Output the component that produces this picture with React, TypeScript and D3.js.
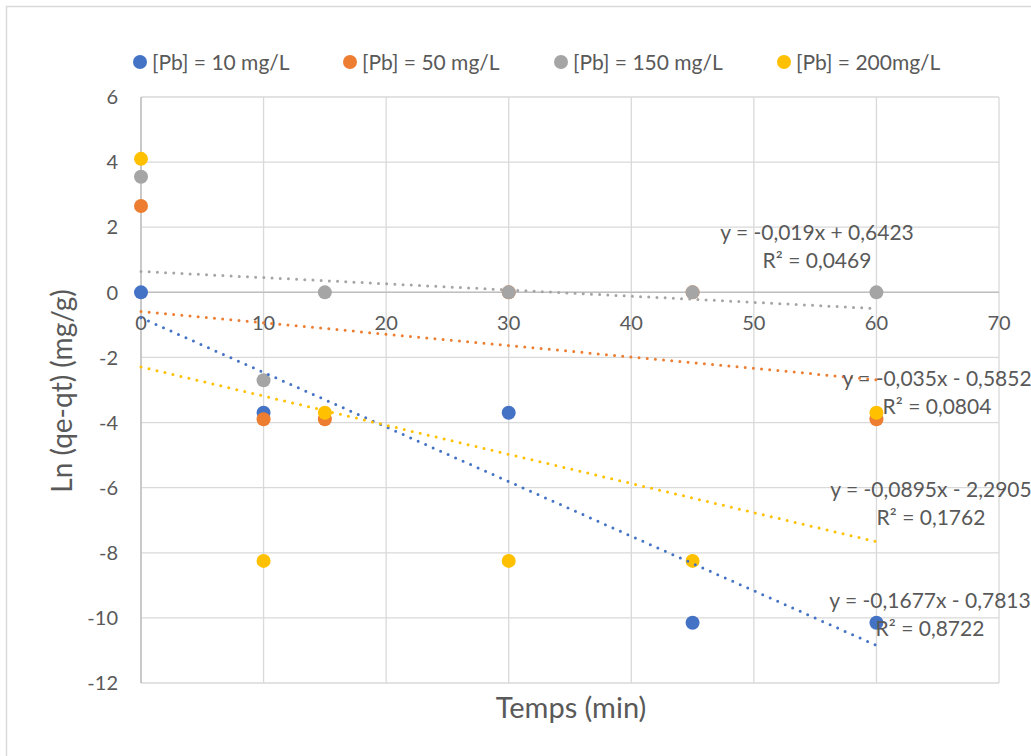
import React from "react";
import * as d3 from "d3";

// Time (min) and Ln(qe-qt) values per lead concentration
const seriesNames = ["[Pb] = 10 mg/L", "[Pb] = 50 mg/L", "[Pb] = 150 mg/L", "[Pb] = 200mg/L"];
const seriesColors = ["#4472C4", "#ED7D31", "#A5A5A5", "#FFC000"];

const pb10X = [0, 10, 30, 45, 60];
const pb10Y = [0, -3.7, -3.7, -10.15, -10.15];
const pb50X = [0, 10, 15, 30, 45, 60];
const pb50Y = [2.65, -3.9, -3.9, 0, 0, -3.9];
const pb150X = [0, 10, 15, 30, 45, 60];
const pb150Y = [3.55, -2.7, 0, 0, 0, 0];
const pb200X = [0, 10, 15, 30, 45, 60];
const pb200Y = [4.1, -8.25, -3.7, -8.25, -8.25, -3.7];

// Linear trendlines: slope, intercept, R²
const trendSlopes = [-0.1677, -0.035, -0.019, -0.0895];
const trendIntercepts = [-0.7813, -0.5852, 0.6423, -2.2905];
const trendEqLabels = [
  "y = -0,1677x - 0,7813",
  "y = -0,035x - 0,5852",
  "y = -0,019x + 0,6423",
  "y = -0,0895x - 2,2905",
];
const trendR2Labels = ["R² = 0,8722", "R² = 0,0804", "R² = 0,0469", "R² = 0,1762"];

const xTicks = [0, 10, 20, 30, 40, 50, 60, 70];
const yTicks = [6, 4, 2, 0, -2, -4, -6, -8, -10, -12];

const W = 1031;
const H = 756;
const plot = { left: 141, right: 999, top: 97, bottom: 683 };
const FONT = "Lato, 'Open Sans', sans-serif";
const TEXT = "#595959";

export default function App() {
  const x = d3.scaleLinear().domain([0, 70]).range([plot.left, plot.right]);
  const y = d3.scaleLinear().domain([-12, 6]).range([plot.bottom, plot.top]);

  const series = [
    { xs: pb10X, ys: pb10Y },
    { xs: pb50X, ys: pb50Y },
    { xs: pb150X, ys: pb150Y },
    { xs: pb200X, ys: pb200Y },
  ];

  // pixel centre of each trendline's equation block
  const labelPos = [
    { cx: 930, cy: 608 },
    { cx: 937, cy: 386 },
    { cx: 817, cy: 240 },
    { cx: 931, cy: 497 },
  ];

  const legendX = [140, 350, 561, 784];

  return (
    <svg
      width={W}
      height={H}
      style={{ position: "absolute", left: 0, top: 0, background: "#fff" }}
      fontFamily={FONT}
    >
      <rect x={6.5} y={6.5} width={W + 20} height={H + 20} fill="#fff" stroke="#d9d9d9" strokeWidth={1.5} />

      {/* gridlines */}
      {xTicks.map((t) => (
        <line key={"gx" + t} x1={x(t)} x2={x(t)} y1={plot.top} y2={plot.bottom} stroke="#d9d9d9" strokeWidth={1.3} />
      ))}
      {yTicks.map((t) => (
        <line key={"gy" + t} x1={plot.left} x2={plot.right} y1={y(t)} y2={y(t)} stroke="#d9d9d9" strokeWidth={1.3} />
      ))}
      {/* axes */}
      <line x1={x(0)} x2={x(0)} y1={plot.top} y2={plot.bottom} stroke="#bfbfbf" strokeWidth={1.5} />
      <line x1={plot.left} x2={plot.right} y1={y(0)} y2={y(0)} stroke="#bfbfbf" strokeWidth={1.5} />

      {/* tick labels */}
      {yTicks.map((t) => (
        <text key={"ty" + t} x={118} y={y(t)} dy="0.36em" textAnchor="end" fontSize={20} fill={TEXT}>
          {t}
        </text>
      ))}
      {xTicks.map((t) => (
        <text key={"tx" + t} x={x(t)} y={y(0) + 38} textAnchor="middle" fontSize={20} fill={TEXT}>
          {t}
        </text>
      ))}

      {/* axis titles */}
      <text x={571} y={718} textAnchor="middle" fontSize={29} fill={TEXT}>
        Temps (min)
      </text>
      <text
        transform={`translate(${72},${391}) rotate(-90)`}
        textAnchor="middle"
        fontSize={28}
        fill={TEXT}
      >
        Ln (qe-qt) (mg/g)
      </text>

      {/* markers */}
      {series.map((s, i) =>
        s.xs.map((xv, j) => (
          <circle key={`m${i}-${j}`} cx={x(xv)} cy={y(s.ys[j])} r={7} fill={seriesColors[i]} />
        ))
      )}

      {/* trendlines over the measured range */}
      {series.map((s, i) => {
        const x0 = d3.min(s.xs) ?? 0;
        const x1 = d3.max(s.xs) ?? 0;
        const pts: [number, number][] = [
          [x(x0), y(trendSlopes[i] * x0 + trendIntercepts[i])],
          [x(x1), y(trendSlopes[i] * x1 + trendIntercepts[i])],
        ];
        return (
          <path
            key={"t" + i}
            d={d3.line()(pts) || ""}
            stroke={seriesColors[i]}
            strokeWidth={3}
            strokeDasharray="0 8.2"
            strokeLinecap="round"
            fill="none"
          />
        );
      })}

      {/* trendline labels */}
      {labelPos.map((p, i) => (
        <g key={"lbl" + i}>
          <text x={p.cx} y={p.cy} textAnchor="middle" fontSize={21} fill={TEXT}>
            {trendEqLabels[i]}
          </text>
          <text x={p.cx} y={p.cy + 28} textAnchor="middle" fontSize={21} fill={TEXT}>
            {trendR2Labels[i]}
          </text>
        </g>
      ))}

      {/* legend */}
      {seriesNames.map((n, i) => (
        <g key={"lg" + i}>
          <circle cx={legendX[i]} cy={62} r={7} fill={seriesColors[i]} />
          <text x={legendX[i] + 12} y={62} dy="0.36em" fontSize={21} fill={TEXT}>
            {n}
          </text>
        </g>
      ))}
    </svg>
  );
}
